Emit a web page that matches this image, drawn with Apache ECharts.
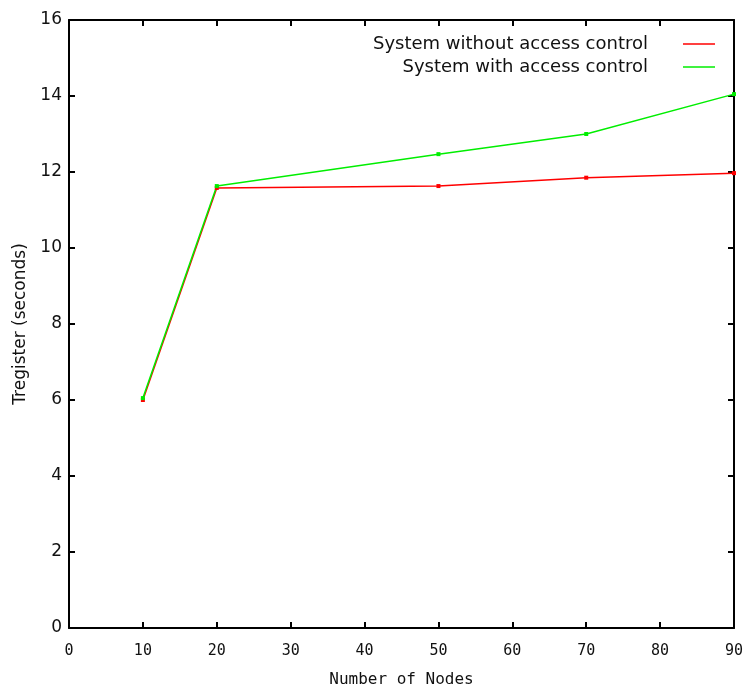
<!DOCTYPE html>
<html>
<head>
<meta charset="utf-8">
<script src="https://cdn.jsdelivr.net/npm/echarts@6/dist/echarts.min.js"></script>
<style>
  html, body { margin: 0; padding: 0; background: #fff; }
  #chart { width: 745px; height: 689px; }
</style>
</head>
<body>
<div id="chart"></div>
<script>
// data
const nodes = [10, 20, 50, 70, 90];
const withoutAC = [6.0, 11.58, 11.63, 11.85, 11.97];
const withAC = [6.05, 11.63, 12.47, 13.0, 14.05];
const seriesNames = ['System without access control', 'System with access control'];

const chart = echarts.init(document.getElementById('chart'));

const frameAxis = {
  axisLine: { show: true, onZero: false, lineStyle: { color: '#000', width: 2 } },
  axisTick: { show: true, inside: true, length: 6, lineStyle: { color: '#000', width: 2 } },
  splitLine: { show: false }
};

const option = {
  animation: false,
  grid: { left: 69, right: 11, top: 20, bottom: 61, outerBoundsMode: 'none' },
  legend: {
    orient: 'vertical',
    right: 30,
    top: 35,
    padding: 0,
    align: 'right',
    itemWidth: 32,
    itemHeight: 8,
    itemGap: 5,
    textStyle: { fontFamily: 'DejaVu Sans', fontSize: 18, color: '#111', padding: [0, 30, 0, 0] },
    data: seriesNames.map(n => ({ name: n, icon: 'path://M0,4L32,4L32,5.5L0,5.5Z' }))
  },
  xAxis: [
    Object.assign({
      type: 'value', min: 0, max: 90, interval: 10, position: 'bottom',
      name: 'Number of Nodes', nameLocation: 'middle', nameGap: 44,
      nameTextStyle: { fontFamily: 'DejaVu Sans Mono', fontSize: 16, color: '#111' },
      axisLabel: { fontFamily: 'DejaVu Sans Mono', fontSize: 15, color: '#111', margin: 16 }
    }, frameAxis),
    Object.assign({
      type: 'value', min: 0, max: 90, interval: 10, position: 'top',
      axisLabel: { show: false }
    }, frameAxis)
  ],
  yAxis: [
    Object.assign({
      type: 'value', min: 0, max: 16, interval: 2, position: 'left',
      name: 'Tregister (seconds)', nameLocation: 'middle', nameGap: 37,
      nameTextStyle: { fontFamily: 'DejaVu Sans', fontSize: 17, color: '#111' },
      axisLabel: { fontFamily: 'DejaVu Sans', fontSize: 17, color: '#111', margin: 7 }
    }, frameAxis),
    Object.assign({
      type: 'value', min: 0, max: 16, interval: 2, position: 'right',
      axisLabel: { show: false }
    }, frameAxis)
  ],
  series: [
    {
      name: seriesNames[0],
      type: 'line',
      xAxisIndex: 0,
      yAxisIndex: 0,
      data: nodes.map((x, i) => [x, withoutAC[i]]),
      color: '#ff0000',
      lineStyle: { width: 1.5 },
      symbol: 'rect',
      symbolSize: 4
    },
    {
      name: seriesNames[1],
      type: 'line',
      xAxisIndex: 0,
      yAxisIndex: 0,
      data: nodes.map((x, i) => [x, withAC[i]]),
      color: '#00ee00',
      lineStyle: { width: 1.5 },
      symbol: 'rect',
      symbolSize: 4
    }
  ]
};

chart.setOption(option);
</script>
</body>
</html>
